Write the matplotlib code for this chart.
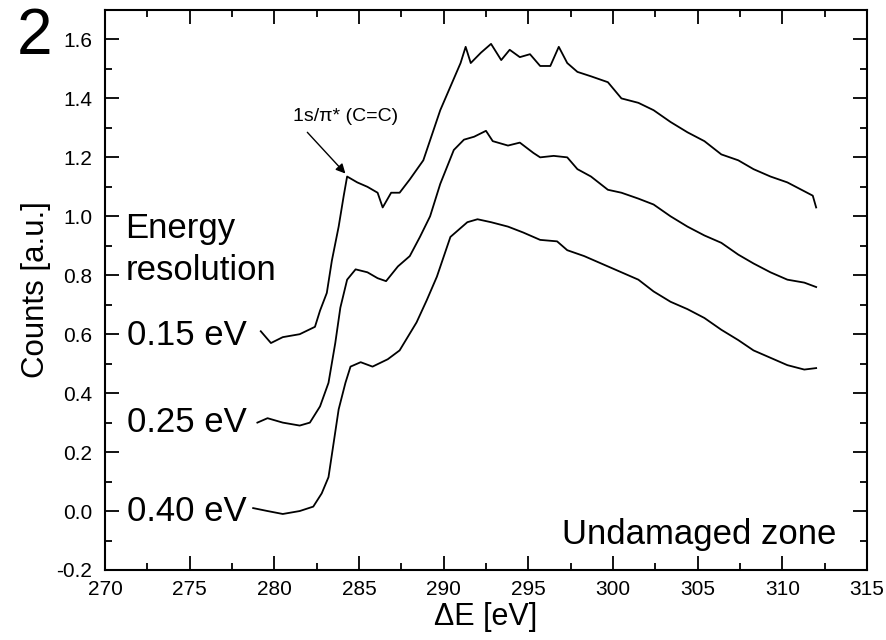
import matplotlib
matplotlib.use("Agg")
import matplotlib.pyplot as plt
from matplotlib.ticker import MultipleLocator, FormatStrFormatter

plt.rcParams["font.family"] = ["Liberation Sans", "DejaVu Sans"]
plt.rcParams["axes.unicode_minus"] = False

# 能量损失 [eV] 与计数
e_015 = [279.2, 279.8, 280.5, 281.5, 282.4, 282.7, 283.1, 283.4, 283.8, 284.1, 284.3,
         284.9, 285.5, 286.1, 286.4, 286.9, 287.4, 288.0, 288.8, 289.8, 290.4, 291.0,
         291.3, 291.6, 292.2, 292.8, 293.4, 293.9, 294.5, 295.1, 295.7, 296.3, 296.8,
         297.3, 297.9, 298.7, 299.7, 300.5, 301.5, 302.4, 303.4, 304.4, 305.4, 306.4,
         307.4, 308.3, 309.3, 310.3, 311.3, 311.8, 312.0]
c_015 = [0.61, 0.57, 0.59, 0.60, 0.625, 0.68, 0.74, 0.85, 0.965, 1.07, 1.135,
         1.115, 1.10, 1.08, 1.03, 1.08, 1.08, 1.125, 1.19, 1.36, 1.44, 1.52,
         1.575, 1.52, 1.555, 1.585, 1.53, 1.565, 1.54, 1.55, 1.51, 1.51, 1.575,
         1.52, 1.49, 1.475, 1.455, 1.40, 1.385, 1.36, 1.32, 1.285, 1.255, 1.21,
         1.19, 1.16, 1.135, 1.115, 1.085, 1.07, 1.03]

e_025 = [279.0, 279.6, 280.5, 281.5, 282.1, 282.7, 283.2, 283.6, 283.9, 284.3, 284.8,
         285.5, 286.1, 286.6, 287.3, 288.0, 288.6, 289.2, 289.8, 290.6, 291.2, 291.8,
         292.5, 292.9, 293.8, 294.5, 295.3, 295.7, 296.5, 297.3, 297.9, 298.7, 299.7,
         300.5, 301.5, 302.4, 303.4, 304.4, 305.4, 306.4, 307.4, 308.3, 309.3, 310.3,
         311.3, 312.0]
c_025 = [0.30, 0.315, 0.30, 0.29, 0.30, 0.355, 0.435, 0.57, 0.69, 0.785, 0.82,
         0.81, 0.79, 0.78, 0.83, 0.865, 0.93, 1.00, 1.11, 1.225, 1.26, 1.27,
         1.29, 1.255, 1.24, 1.25, 1.215, 1.20, 1.205, 1.20, 1.16, 1.135, 1.09,
         1.08, 1.06, 1.04, 1.00, 0.965, 0.935, 0.91, 0.87, 0.84, 0.81, 0.785,
         0.775, 0.76]

e_040 = [278.75, 279.6, 280.5, 281.5, 282.3, 282.8, 283.2, 283.5, 283.8, 284.2, 284.5,
         285.1, 285.8, 286.7, 287.4, 288.4, 289.0, 289.6, 290.4, 291.4, 292.0, 292.8,
         293.8, 294.7, 295.7, 296.7, 297.3, 298.3, 299.3, 300.5, 301.5, 302.4, 303.4,
         304.4, 305.4, 306.4, 307.4, 308.3, 309.3, 310.3, 311.3, 312.0]
c_040 = [0.01, 0.0, -0.01, 0.0, 0.015, 0.06, 0.115, 0.23, 0.345, 0.435, 0.49,
         0.505, 0.49, 0.515, 0.545, 0.64, 0.715, 0.795, 0.93, 0.98, 0.99, 0.98,
         0.965, 0.945, 0.92, 0.915, 0.885, 0.865, 0.84, 0.81, 0.785, 0.745, 0.71,
         0.685, 0.655, 0.615, 0.58, 0.545, 0.52, 0.495, 0.48, 0.485]

labels = ["0.15 eV", "0.25 eV", "0.40 eV"]
label_y = [0.595, 0.30, 0.0]

fig = plt.figure(figsize=(8.86, 6.4), dpi=100)
ax = fig.add_axes([0.1185, 0.1094, 0.86, 0.875])

for e, c in [(e_015, c_015), (e_025, c_025), (e_040, c_040)]:
    ax.plot(e, c, color="black", lw=1.3)

ax.set_xlim(270, 315)
ax.set_ylim(-0.2, 1.70)
ax.xaxis.set_major_locator(MultipleLocator(5))
ax.xaxis.set_minor_locator(MultipleLocator(2.5))
ax.yaxis.set_major_locator(MultipleLocator(0.2))
ax.yaxis.set_minor_locator(MultipleLocator(0.1))
ax.yaxis.set_major_formatter(FormatStrFormatter("%.1f"))
ax.tick_params(which="both", direction="in", top=True, right=True,
               width=1.3, labelsize=15)
ax.tick_params(which="major", length=10)
ax.tick_params(axis="y", which="major", pad=9)
ax.tick_params(axis="x", which="major", pad=7)
ax.tick_params(which="minor", length=5)
for s in ax.spines.values():
    s.set_linewidth(1.5)

ax.set_xlabel("ΔE [eV]", fontsize=22)
ax.set_ylabel("Counts [a.u.]", fontsize=22.5)
ax.xaxis.set_label_coords(0.5, -0.058)
ax.yaxis.set_label_coords(-0.071, 0.5)

for txt, y in zip(labels, label_y):
    ax.text(271.3, y, txt, fontsize=25, va="center", ha="left")
ax.text(271.2, 0.96, "Energy", fontsize=25, va="center", ha="left")
ax.text(271.2, 0.815, "resolution", fontsize=25, va="center", ha="left")
ax.text(313.2, -0.08, "Undamaged zone", fontsize=25, va="center", ha="right")

ax.text(281.1, 1.34, "1s/π* (C=C)", fontsize=14, va="center", ha="left")
ax.annotate("", xy=(284.2, 1.145), xytext=(281.95, 1.285),
            arrowprops=dict(arrowstyle="-|>", color="black", lw=1,
                            mutation_scale=14, shrinkA=0, shrinkB=0))

fig.text(35 / 886, 1 - 37 / 640, "2", fontsize=46, ha="center", va="center")

fig.savefig("out.png", dpi=100)
